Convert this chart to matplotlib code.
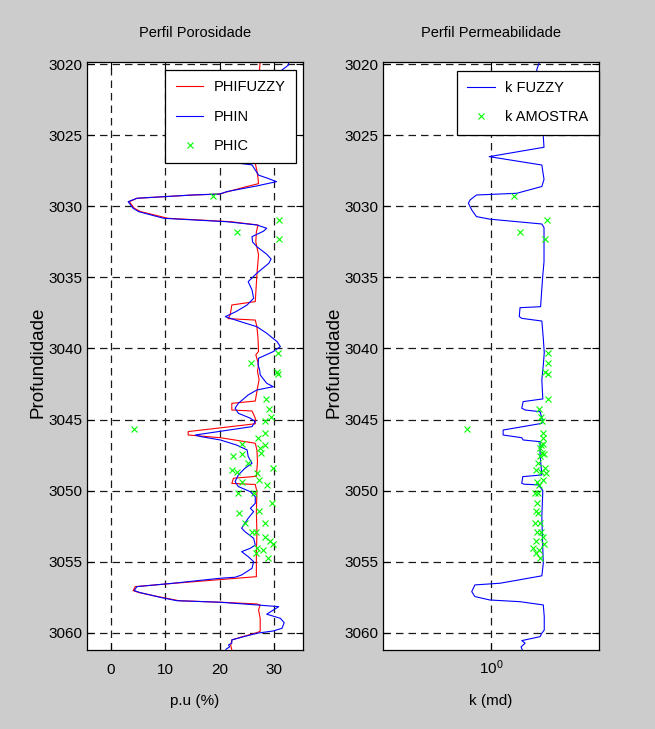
import numpy as np
import matplotlib
matplotlib.use("Agg")
import matplotlib.pyplot as plt
from matplotlib import font_manager
from matplotlib.ticker import FixedLocator, FixedFormatter, NullLocator

# ---------------- data ----------------
# PHIN (blue) : depth (m), porosity (p.u. %)
phin_depth = [3019.7, 3020.05, 3020.4, 3021.5, 3023.0, 3024.5, 3025.8, 3026.2, 3026.5, 3026.8,
              3027.08, 3027.8, 3028.0, 3028.26, 3028.56, 3028.96, 3029.13, 3029.2, 3029.43, 3029.67,
              3030.13, 3030.37, 3030.84, 3031.08, 3031.31, 3031.54, 3031.75, 3032.13, 3032.5, 3032.84,
              3033.37, 3033.7, 3034.0, 3034.7, 3035.3, 3035.88, 3036.47, 3036.94, 3037.4, 3037.76,
              3038.1, 3038.47, 3038.93, 3039.52, 3039.87, 3040.22, 3040.69, 3041.16, 3041.5, 3041.86,
              3042.45, 3042.69, 3042.92, 3043.27, 3043.86, 3044.2, 3044.56, 3044.91, 3045.15, 3045.5,
              3046.09, 3046.2, 3046.44, 3046.8, 3047.14, 3047.6, 3048.08, 3048.43, 3048.9, 3049.37,
              3049.72, 3050.08, 3050.43, 3050.9, 3051.25, 3051.48, 3051.95, 3052.65, 3052.89, 3053.36,
              3053.83, 3054.06, 3054.3, 3054.65, 3055.0, 3055.47, 3055.94, 3056.1, 3056.17, 3056.52,
              3056.76, 3057.04, 3057.18, 3057.51, 3057.75, 3057.86, 3058.05, 3058.17, 3058.7, 3058.99,
              3059.3, 3059.69, 3059.88, 3060.04, 3060.32, 3060.51, 3060.74, 3060.86, 3061.0, 3061.15,
              3061.3]
phin = [32.6, 32.6, 31.4, 29.0, 27.5, 27.0, 26.5, 20.0, 13.0, 20.0,
        25.9, 27.1, 28.6, 30.4, 26.8, 21.3, 20.0, 15.0, 4.8, 3.2,
        4.1, 5.1, 9.7, 21.3, 26.8, 28.6, 28.0, 25.9, 26.0, 26.8,
        28.6, 29.4, 29.0, 26.8, 25.2, 25.9, 26.2, 25.0, 23.0, 21.0,
        23.7, 26.8, 28.6, 30.5, 31.1, 29.8, 27.1, 27.0, 27.3, 27.4,
        28.6, 29.8, 26.8, 25.2, 23.4, 22.8, 23.4, 25.6, 26.5, 25.9,
        15.5, 16.5, 20.1, 23.1, 25.0, 25.2, 25.9, 24.6, 23.4, 22.8,
        23.4, 25.6, 26.5, 26.5, 25.6, 26.2, 25.2, 24.0, 24.6, 26.2,
        26.5, 25.6, 24.0, 25.2, 26.2, 25.9, 24.0, 22.8, 20.1, 11.5,
        4.8, 4.3, 5.4, 9.0, 12.1, 20.1, 26.8, 30.8, 28.6, 31.1,
        31.8, 31.4, 29.8, 26.8, 24.0, 22.2, 22.2, 21.6, 21.8, 21.2,
        21.0]

# PHIFUZZY (red)
phifuzzy_depth = [3019.7, 3020.3, 3021.5, 3023.0, 3025.5, 3025.9, 3026.2, 3026.5, 3026.75, 3026.97,
                  3027.5, 3028.0, 3028.4, 3028.6, 3028.96, 3029.13, 3029.2, 3029.43, 3029.67, 3030.13,
                  3030.37, 3030.84, 3031.08, 3031.31, 3031.8, 3032.5, 3033.4, 3034.8, 3036.7, 3036.94,
                  3037.64, 3037.9, 3038.0, 3038.47, 3039.3, 3040.2, 3040.45, 3040.7, 3041.16, 3041.6,
                  3042.2, 3042.8, 3043.7, 3043.86, 3044.33, 3044.4, 3044.9, 3045.3, 3045.85, 3046.09,
                  3046.28, 3046.67, 3047.14, 3048.0, 3049.0, 3049.13, 3049.5, 3049.57, 3050.08, 3051.5,
                  3053.0, 3054.5, 3056.06, 3056.17, 3056.52, 3056.76, 3057.04, 3057.18, 3057.51, 3057.75,
                  3057.86, 3057.98, 3058.05, 3058.4, 3058.99, 3059.9, 3060.0, 3060.3, 3060.51, 3060.9,
                  3061.2, 3061.3]
phifuzzy = [27.4, 27.3, 27.0, 26.8, 26.6, 26.0, 16.0, 12.5, 20.0, 26.5,
            26.8, 27.0, 27.1, 25.0, 21.5, 20.0, 15.0, 4.8, 3.4, 4.3,
            5.5, 10.5, 22.0, 27.0, 26.7, 26.6, 27.1, 26.8, 26.5, 22.2,
            21.9, 21.5, 26.5, 26.8, 27.0, 27.1, 26.6, 26.8, 27.1, 26.9,
            27.2, 26.9, 26.5, 22.2, 22.2, 25.9, 26.5, 26.5, 14.2, 14.2,
            20.1, 26.5, 26.8, 26.9, 26.7, 22.5, 22.2, 26.5, 26.8, 26.7,
            26.8, 26.7, 26.7, 23.1, 11.8, 4.5, 4.1, 5.2, 9.3, 12.5,
            20.3, 26.8, 27.4, 27.1, 27.4, 27.4, 26.8, 24.0, 22.2, 22.0,
            22.2, 22.2]

# core samples: PHIC (porosity) and k AMOSTRA (permeability, md)
core_depth = [3029.27, 3030.96, 3031.82, 3032.3, 3040.3, 3041.0, 3041.63, 3041.8, 3043.55, 3044.26,
              3044.8, 3045.12, 3045.67, 3045.95, 3046.3, 3046.72, 3046.77, 3047.02, 3047.33, 3047.43,
              3047.6, 3048.08, 3048.43, 3048.55, 3048.67, 3048.78, 3049.25, 3049.37, 3049.6, 3050.19,
              3050.19, 3050.85, 3051.43, 3051.55, 3052.26, 3052.3, 3052.9, 3052.9, 3053.29, 3053.53,
              3053.76, 3054.06, 3054.18, 3054.41, 3054.76]
phic = [18.7, 30.9, 23.2, 30.8, 30.6, 25.7, 30.5, 30.6, 28.4, 29.1,
        29.3, 28.3, 4.3, 28.3, 27.0, 24.0, 28.3, 27.3, 27.5, 24.0,
        22.5, 25.2, 29.8, 22.2, 23.1, 26.8, 27.1, 24.0, 28.7, 23.4,
        26.3, 29.5, 27.2, 23.6, 28.3, 24.6, 25.9, 26.7, 28.3, 29.2,
        29.7, 26.8, 28.0, 26.7, 28.9]
k_amostra = [1.48, 2.59, 1.64, 2.51, 2.63, 2.63, 2.51, 2.63, 2.63, 2.28,
             2.35, 2.37, 0.66, 2.44, 2.41, 2.44, 2.35, 2.31, 2.39, 2.47,
             2.31, 2.23, 2.51, 2.15, 2.35, 2.55, 2.43, 2.19, 2.27, 2.12,
             2.23, 2.19, 2.15, 2.23, 2.12, 2.31, 2.19, 2.35, 2.43, 2.15,
             2.47, 2.05, 2.27, 2.15, 2.31]

# k FUZZY (blue, md)
kfuzzy_depth = [3019.7, 3020.4, 3021.5, 3023.0, 3025.1, 3025.84, 3026.5, 3027.09, 3028.1, 3028.6,
                3029.08, 3029.2, 3029.55, 3029.78, 3030.25, 3030.72, 3030.9, 3031.24, 3031.5, 3033.9,
                3034.83, 3035.8, 3037.06, 3037.13, 3037.76, 3037.88, 3038.07, 3039.29, 3040.3, 3041.16,
                3042.22, 3043.55, 3043.74, 3044.2, 3044.33, 3044.45, 3045.15, 3045.27, 3045.74, 3046.09,
                3046.28, 3046.44, 3046.56, 3047.5, 3048.9, 3049.02, 3049.48, 3049.55, 3049.6, 3050.0,
                3051.84, 3054.18, 3055.12, 3056.0, 3056.52, 3056.64, 3057.11, 3057.46, 3057.7, 3057.82,
                3058.05, 3058.87, 3059.81, 3060.04, 3060.28, 3060.56, 3060.74, 3061.0, 3061.3]
kfuzzy = [2.31, 2.18, 2.39, 2.43, 2.44, 2.47, 0.97, 2.38, 2.47, 2.38,
          1.55, 0.78, 0.70, 0.68, 0.72, 0.78, 0.98, 2.38, 2.47, 2.47,
          2.42, 2.38, 2.33, 1.64, 1.62, 1.69, 2.38, 2.44, 2.48, 2.44,
          2.38, 2.42, 1.73, 1.69, 1.79, 2.31, 2.42, 2.38, 1.23, 1.23,
          1.69, 1.73, 2.31, 2.31, 2.38, 1.72, 1.69, 1.75, 2.24, 2.42,
          2.38, 2.42, 2.44, 2.38, 1.17, 0.76, 0.72, 0.76, 0.98, 1.64,
          2.44, 2.48, 2.48, 2.38, 2.31, 1.69, 1.79, 1.67, 1.72]

depth_ticks = [3020, 3025, 3030, 3035, 3040, 3045, 3050, 3055, 3060]
phi_ticks = [0, 10, 20, 30]
legend_left = ["PHIFUZZY", "PHIN", "PHIC"]
legend_right = ["k FUZZY", "k AMOSTRA"]

# ---------------- style ----------------
names = {f.name for f in font_manager.fontManager.ttflist}
narrow = "Liberation Sans Narrow" if "Liberation Sans Narrow" in names else "Liberation Sans"
plt.rcParams["font.family"] = [narrow, "DejaVu Sans"]
plt.rcParams["mathtext.fontset"] = "custom"
plt.rcParams["mathtext.rm"] = narrow
FS_TICK = 11
FS_LEG = 10.5
FS_TITLE = 10.5
FS_XLAB = 11
FS_YLAB = 13.5
BG = "#cccccc"
GREEN = "#00ff00"
grid_kw = dict(color="0.1", linestyle=(0, (6, 4)), linewidth=0.9)

W, H = 655, 729
fig = plt.figure(figsize=(W / 100, H / 100), dpi=100, facecolor=BG)
ax1 = fig.add_axes([87 / W, 1 - 650 / H, 216 / W, 588 / H])
ax2 = fig.add_axes([383 / W, 1 - 650 / H, 216 / W, 588 / H])

ylim = (3061.22, 3019.84)

# left panel
ax1.plot(phifuzzy, phifuzzy_depth, color="#ff0000", lw=0.8, label=legend_left[0])
ax1.plot(phin, phin_depth, color="#0000ff", lw=0.8, label=legend_left[1])
ax1.plot(phic, core_depth, ls="none", marker="x", color=GREEN, ms=4.5, mew=0.8, label=legend_left[2])
ax1.set_xlim(-4.35, 35.25)
ax1.set_ylim(*ylim)
ax1.set_xticks(phi_ticks)
ax1.text(0.5, 1.049, "Perfil Porosidade", transform=ax1.transAxes, fontsize=FS_TITLE,
         ha="center", va="center")
ax1.set_xlabel("p.u (%)", fontsize=FS_XLAB)
ax1.set_ylabel("Profundidade", fontsize=FS_YLAB, family=["Liberation Sans", "DejaVu Sans"])

# right panel
ax2.plot(kfuzzy, kfuzzy_depth, color="#0000ff", lw=0.8, label=legend_right[0])
ax2.plot(k_amostra, core_depth, ls="none", marker="x", color=GREEN, ms=4.5, mew=0.8, label=legend_right[1])
ax2.set_xscale("log")
ax2.set_xlim(10 ** -0.8, 10 ** 0.8)
ax2.set_ylim(*ylim)
ax2.xaxis.set_major_locator(FixedLocator([1.0]))
ax2.xaxis.set_major_formatter(FixedFormatter([r"$\mathregular{10^{0}}$"]))
ax2.xaxis.set_minor_locator(NullLocator())
ax2.text(0.5, 1.049, "Perfil Permeabilidade", transform=ax2.transAxes, fontsize=FS_TITLE,
         ha="center", va="center")
ax2.set_xlabel("k (md)", fontsize=FS_XLAB)
ax2.set_ylabel("Profundidade", fontsize=FS_YLAB, family=["Liberation Sans", "DejaVu Sans"])

for ax, ylx in ((ax1, -0.227), (ax2, -0.225)):
    ax.set_facecolor("white")
    ax.set_yticks(depth_ticks)
    ax.yaxis.set_minor_locator(NullLocator())
    ax.grid(True, which="major", **grid_kw)
    ax.set_axisbelow(True)
    ax.tick_params(axis="both", which="both", direction="in", length=5, width=0.8,
                   top=True, right=True, labelsize=FS_TICK, colors="black")
    ax.tick_params(axis="y", pad=3)
    ax.tick_params(axis="x", pad=9)
    for s in ax.spines.values():
        s.set_linewidth(0.9)
        s.set_color("black")
    ax.xaxis.set_label_coords(0.5, -0.087)
    ax.xaxis.label.set_va("center")
    ax.yaxis.set_label_coords(ylx, 0.49)
    ax.yaxis.label.set_va("center")

ax2.tick_params(axis="x", pad=6)

leg_kw = dict(loc="upper right", borderaxespad=0, fancybox=False, edgecolor="black",
              framealpha=1, fontsize=FS_LEG, handlelength=1.9, handletextpad=0.7,
              borderpad=0.72, labelspacing=1.04, numpoints=1)
l1 = ax1.legend(bbox_to_anchor=(0.9676, 0.9864), **leg_kw)
l2 = ax2.legend(bbox_to_anchor=(1.0, 0.985), **leg_kw)
for l in (l1, l2):
    l.get_frame().set_linewidth(0.9)

fig.savefig("out.png", dpi=100, facecolor=BG)
